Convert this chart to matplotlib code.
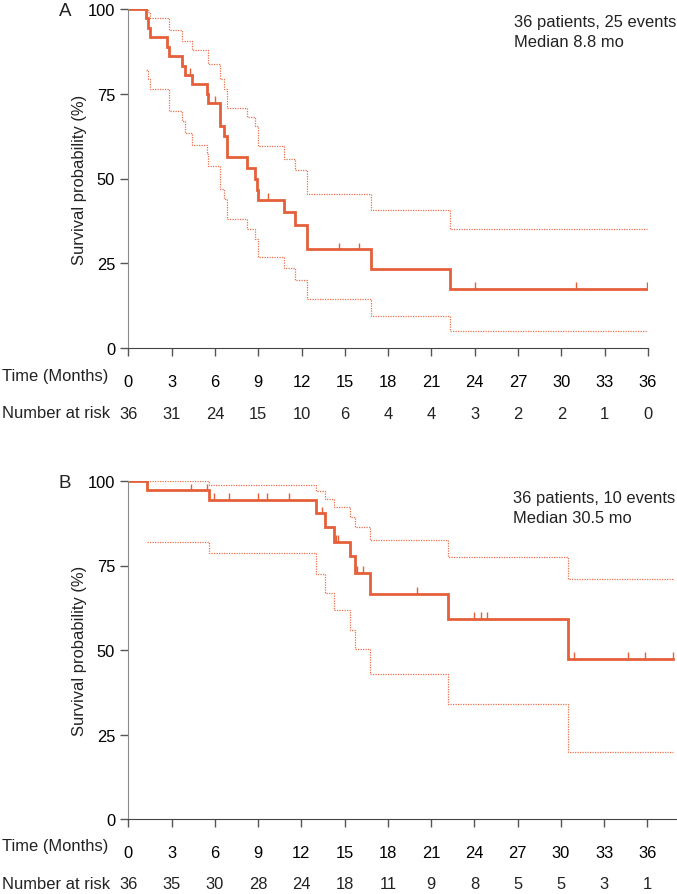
import numpy as np
import matplotlib
matplotlib.use("Agg")
from matplotlib import pyplot as plt

plt.rcParams['font.family'] = ['Liberation Sans', 'DejaVu Sans']

# ---- panel A : survival curve + 95% CI (time in months, survival in %)
a_t = [0, 1.2, 1.35, 1.5, 2.65, 2.8, 3.7, 3.9, 4.43, 5.43, 5.55, 6.35, 6.6, 6.81,
       8.2, 8.8, 8.93, 9.0, 10.8, 11.55, 12.35, 16.84, 22.3, 35.95]
a_s = [100, 97.2, 94.4, 91.7, 88.9, 86.1, 83.3, 80.6, 77.8, 75.0, 72.2, 65.5, 62.4, 56.3,
       53.1, 49.8, 46.7, 43.6, 40.2, 36.4, 29.1, 23.2, 17.5, 17.5]
a_up_t = [1.2, 1.35, 1.5, 2.8, 3.7, 4.43, 5.55, 6.35, 6.6, 6.81, 8.2, 8.8, 9.0,
          10.8, 11.55, 12.35, 16.84, 22.3, 35.95]
a_up_s = [100, 99.2, 97.2, 93.9, 90.6, 88.0, 83.7, 79.3, 76.3, 70.7, 68.2, 65.5, 59.6,
          55.8, 52.5, 45.5, 40.6, 35.2, 35.2]
a_lo_t = [1.2, 1.35, 1.5, 2.8, 3.7, 3.9, 4.43, 5.43, 5.55, 6.35, 6.6, 6.81, 8.2, 8.8,
          8.95, 10.8, 11.55, 12.35, 16.84, 22.3, 35.95]
a_lo_s = [82.1, 79.3, 76.3, 69.9, 67.0, 63.5, 60.0, 57.1, 53.8, 47.0, 44.1, 38.0, 35.0, 32.3,
          26.7, 23.5, 20.1, 14.4, 9.4, 5.0, 5.0]
a_cens_t = [4.27, 6.0, 9.7, 14.6, 16.0, 24.0, 31.0, 35.95]
a_cens_s = [80.6, 72.2, 43.6, 29.1, 29.1, 17.5, 17.5, 17.5]
a_risk = [36, 31, 24, 15, 10, 6, 4, 4, 3, 2, 2, 1, 0]
a_text = "36 patients, 25 events\nMedian 8.8 mo"

# ---- panel B
b_t = [0, 1.27, 5.59, 13.0, 13.64, 14.29, 15.37, 15.72, 16.76, 22.17, 30.47, 37.75]
b_s = [100, 97.2, 94.4, 90.4, 86.3, 82.1, 77.8, 72.8, 66.6, 59.2, 47.4, 47.4]
b_up_t = [1.27, 5.59, 13.0, 13.64, 14.29, 15.37, 15.72, 16.76, 22.17, 30.47, 37.75]
b_up_s = [100, 98.7, 96.9, 94.8, 92.3, 89.4, 86.4, 82.4, 77.5, 71.1, 71.1]
b_lo_t = [1.27, 5.59, 13.0, 13.64, 14.29, 15.37, 15.72, 16.76, 22.17, 30.47, 37.75]
b_lo_s = [81.9, 78.7, 72.6, 66.8, 61.7, 56.0, 50.4, 42.9, 34.1, 19.7, 19.7]
b_cens_t = [4.32, 5.43, 5.94, 7.0, 9.0, 9.63, 11.15, 13.45, 14.4, 14.52, 15.88, 16.3,
            20.04, 23.95, 24.45, 24.9, 30.9, 34.63, 35.83, 37.75]
b_cens_s = [97.2, 97.2, 94.4, 94.4, 94.4, 94.4, 94.4, 90.4, 82.1, 82.1, 72.8, 72.8,
            66.6, 59.2, 59.2, 59.2, 47.4, 47.4, 47.4, 47.4]
b_risk = [36, 35, 30, 28, 24, 18, 11, 9, 8, 5, 5, 3, 1]
b_text = "36 patients, 10 events\nMedian 30.5 mo"

months = list(range(0, 37, 3))

col = '#e5603a'
fs = 11.9
W, H = 677, 895

fig = plt.figure(figsize=(W / 100, H / 100), dpi=100)


def panel(rect, xmax, t, s, ut, us, lt, ls, ct, cs, risk, txt, label, txt_xy):
    ax = fig.add_axes(rect)
    ax.plot(ut, us, drawstyle='steps-post', color=col, lw=0.9, ls=(0, (1, 1)), alpha=0.9)
    ax.plot(lt, ls, drawstyle='steps-post', color=col, lw=0.9, ls=(0, (1, 1)), alpha=0.9)
    ax.plot(t, s, drawstyle='steps-post', color=col, lw=2.0, solid_joinstyle='miter')
    ax.vlines(ct, np.array(cs), np.array(cs) + 2.0, color=col, lw=1.0)
    ax.set_xlim(0, xmax)
    ax.set_ylim(0, 100)
    ax.set_yticks([0, 25, 50, 75, 100])
    ax.set_xticks(months)
    ax.set_xticklabels([str(m) for m in months])
    for sp in ['top', 'right']:
        ax.spines[sp].set_visible(False)
    ax.spines['left'].set_color('#8a8a8a')
    ax.spines['bottom'].set_color('#444444')
    ax.spines['bottom'].set_bounds(0, xmax)
    ax.tick_params(axis='y', length=6, width=1, color='#555555', pad=3.5, labelsize=fs)
    ax.tick_params(axis='x', length=6, width=1, color='#555555', pad=12.5, labelsize=fs)
    ax.set_ylabel("Survival probability (%)", fontsize=fs, color='#222222', labelpad=0.5)
    ax.set_facecolor('none')
    # number at risk row
    for m, n in zip(months, risk):
        ax.text(m, -0.192, str(n), transform=ax.get_xaxis_transform(),
                ha='center', va='center', fontsize=fs, color='#222222')
    y0 = rect[1]
    fig.text(2 / W, y0 - 27 / H, "Time (Months)", ha='left', va='center', fontsize=fs,
             color='#222222')
    fig.text(2 / W, y0 - 65 / H, "Number at risk", ha='left', va='center', fontsize=fs,
             color='#222222')
    fig.text(65 / W, rect[1] + rect[3] - 1 / H, label, ha='center', va='center',
             fontsize=13.5, color='#222222')
    lines = txt.split("\n")
    fig.text(txt_xy[0] / W, 1 - txt_xy[1] / H, lines[0], ha='left', va='center',
             fontsize=fs, color='#222222')
    fig.text(txt_xy[0] / W, 1 - (txt_xy[1] + 19.5) / H, lines[1], ha='left', va='center',
             fontsize=fs, color='#222222')
    return ax


left = 128.3 / W
panel([left, 1 - 349 / H, (648 - 128.3) / W, 339 / H], 36,
      a_t, a_s, a_up_t, a_up_s, a_lo_t, a_lo_s, a_cens_t, a_cens_s, a_risk, a_text, "A",
      (514, 23))
panel([left, 1 - 820 / H, (677 - 128.3) / W, 338 / H], (677 - 128.3) / 14.42,
      b_t, b_s, b_up_t, b_up_s, b_lo_t, b_lo_s, b_cens_t, b_cens_s, b_risk, b_text, "B",
      (513, 499))

fig.savefig("out.png", dpi=100)
